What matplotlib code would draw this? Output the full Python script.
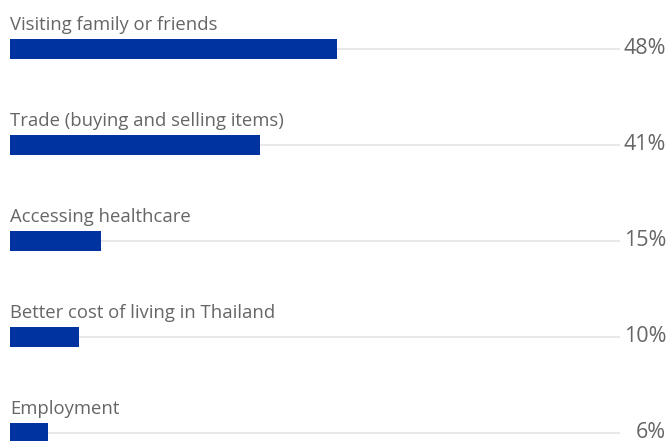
import matplotlib.pyplot as plt

# data
categories = ['Visiting family or friends', 'Trade (buying and selling items)',
              'Accessing healthcare', 'Better cost of living in Thailand', 'Employment']
bar_values = [53.6, 41.0, 14.9, 11.3, 6.2]
value_labels = ['48%', '41%', '15%', '10%', '6%']

BLUE = '#0033a0'
GREY = '#666666'
TRACK = '#e8e8e8'

plt.rcParams['font.family'] = ['Open Sans', 'DejaVu Sans']

fig = plt.figure(figsize=(6.67, 4.41), dpi=100)
ax = fig.add_axes([10 / 667, 0, 610 / 667, 1])

rows = range(len(categories))
ax.barh(rows, [100] * len(categories), height=2.5 / 96, color=TRACK, zorder=1)
ax.barh(rows, bar_values, height=19.5 / 96, color=BLUE, zorder=2)

for i, (cat, lab) in enumerate(zip(categories, value_labels)):
    ax.text(0, i - 0.2, cat, ha='left', va='baseline', fontsize=13.3, color=GREY)
    ax.text(1.0755, i - 0.01, lab, ha='right', va='center', fontsize=15.5, color=GREY,
            transform=ax.get_yaxis_transform())

ax.set_xlim(0, 100)
ax.set_ylim(4.083, -0.5104)
ax.axis('off')

fig.savefig('out.png', dpi=100)
